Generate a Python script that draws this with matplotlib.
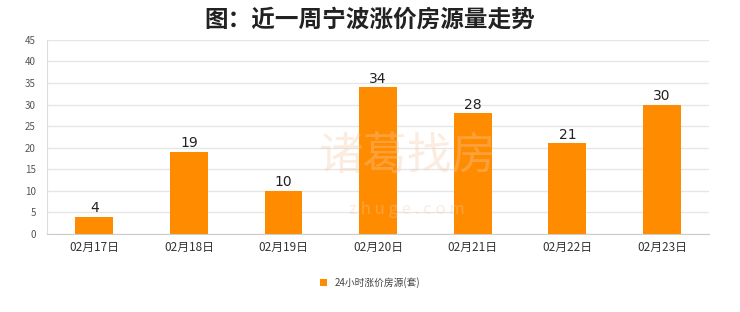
import matplotlib.pyplot as plt
import numpy as np

plt.rcParams['font.family'] = ['Noto Sans CJK SC', 'DejaVu Sans']

dates = ['02月17日', '02月18日', '02月19日', '02月20日', '02月21日', '02月22日', '02月23日']
counts = [4, 19, 10, 34, 28, 21, 30]
yticks = [0, 5, 10, 15, 20, 25, 30, 35, 40, 45]

fig = plt.figure(figsize=(7.4, 3.12), dpi=100)
ax = fig.add_axes([0.0635, 0.25, 0.895, 0.622])

x = np.arange(len(dates))
bars = ax.bar(x, counts, width=0.4, color='#ff8c00', zorder=3,
              label='24小时涨价房源(套)')
for xi, v in zip(x, counts):
    ax.text(xi, v + 0.4, str(v), ha='center', va='bottom', fontsize=10,
            family='DejaVu Sans', color='#222222', zorder=4)

ax.set_xlim(-0.5, len(dates) - 0.5)
ax.set_ylim(0, 45)
ax.set_yticks(yticks)
ax.set_xticks(x)
ax.set_xticklabels(dates, fontsize=8.5, color='#333333')
ax.tick_params(axis='y', labelsize=7, colors='#555555', length=0, pad=8)
ax.tick_params(axis='x', length=0, pad=5)
ax.grid(axis='y', color='#e6e6e6', linewidth=1, zorder=0)
for s in ['top', 'right']:
    ax.spines[s].set_visible(False)
ax.spines['left'].set_color('#dddddd')
ax.spines['bottom'].set_color('#cccccc')

# faint watermark
fig.text(0.55, 0.50, '诸葛找房', ha='center', va='center', fontsize=32,
         color='#f7c9a8', alpha=0.35, zorder=0)
fig.text(0.55, 0.33, 'z h u g e . c o m', ha='center', va='center', fontsize=12,
         color='#f7c9a8', alpha=0.35, zorder=0)

fig.suptitle('图：近一周宁波涨价房源量走势', x=0.5, y=0.975, fontsize=17,
             fontweight='bold', color='#222222')

fig.legend(handles=[bars], loc='center', bbox_to_anchor=(0.5, 0.095),
           frameon=False, fontsize=7, handlelength=0.7, handleheight=0.7,
           labelcolor='#444444')

fig.savefig('out.png', dpi=100, facecolor='white')
